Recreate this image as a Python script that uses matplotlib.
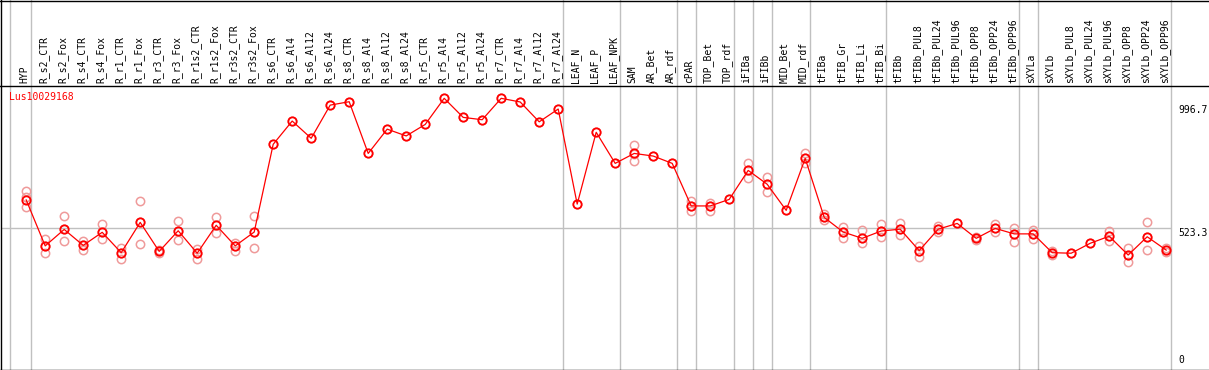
import numpy as np
import matplotlib
matplotlib.use("Agg")
import matplotlib.pyplot as plt
from matplotlib.lines import Line2D
import matplotlib.transforms as mtransforms

# sample names, one column each
samples = ["HYP",
           "R_s2_CTR", "R_s2_Fox", "R_s4_CTR", "R_s4_Fox", "R_r1_CTR", "R_r1_Fox",
           "R_r3_CTR", "R_r3_Fox", "R_r1s2_CTR", "R_r1s2_Fox", "R_r3s2_CTR", "R_r3s2_Fox",
           "R_s6_CTR", "R_s6_Al4", "R_s6_Al12", "R_s6_Al24", "R_s8_CTR", "R_s8_Al4",
           "R_s8_Al12", "R_s8_Al24", "R_r5_CTR", "R_r5_Al4", "R_r5_Al12", "R_r5_Al24",
           "R_r7_CTR", "R_r7_Al4", "R_r7_Al12", "R_r7_Al24",
           "LEAF_N", "LEAF_P", "LEAF_NPK",
           "SAM", "AR_Bet", "AR_rdf",
           "cPAR",
           "TOP_Bet", "TOP_rdf",
           "iFIBa",
           "iFIBb",
           "MID_Bet", "MID_rdf",
           "tFIBa", "tFIB_Gr", "tFIB_Li", "tFIB_Bi",
           "tFIBb", "tFIBb_PUL8", "tFIBb_PUL24", "tFIBb_PUL96", "tFIBb_OPP8",
           "tFIBb_OPP24", "tFIBb_OPP96",
           "sXYLa",
           "sXYLb", "sXYLb_PUL8", "sXYLb_PUL24", "sXYLb_PUL96", "sXYLb_OPP8",
           "sXYLb_OPP24", "sXYLb_OPP96"]

# columns per group (separated by grey lines)
group_sizes = [1, 28, 3, 3, 1, 2, 1, 1, 2, 4, 7, 1, 7]

means = [632, 456, 519, 458, 508, 430, 546, 435, 514, 428, 535, 456, 509,
         845, 934, 868, 995, 1008, 810, 903, 877, 921, 1021, 948, 939,
         1021, 1007, 931, 980,
         616, 891, 772,
         810, 800, 772,
         609,
         609, 634,
         745,
         692,
         592, 791,
         565, 509, 485, 513,
         520, 438, 520, 542, 485, 523, 502,
         502,
         430, 428, 466, 493, 421, 491, 440]

reps = [[666, 644, 604], [482, 456, 428], [570, 519, 475], [475, 458, 440],
        [540, 508, 481], [447, 430, 407], [627, 546, 463], [440, 435, 430],
        [551, 514, 477], [444, 428, 407], [567, 535, 504], [468, 456, 438],
        [570, 509, 447],
        [845], [934], [868], [995], [1008], [810], [903], [877], [921], [1021],
        [948], [939], [1021], [1007], [931], [980],
        [616], [891], [772],
        [842, 808, 781], [800], [772],
        [628, 609, 590],
        [620, 609, 590], [634],
        [772, 745, 715],
        [720, 692, 661],
        [592], [813, 791, 774],
        [578, 565, 555], [527, 509, 485], [516, 485, 466], [539, 513, 491],
        [542, 520, 498], [457, 438, 412], [533, 520, 510], [542], [490, 485, 478],
        [539, 523, 510], [526, 502, 472],
        [517, 502, 482],
        [438, 430, 421], [428], [466], [514, 493, 475], [447, 421, 395],
        [547, 491, 439], [447, 440, 431]]

gene = "Lus10029168"
y_labels = [996.7, 523.3, 0]

W, H = 1209, 370
fig = plt.figure(figsize=(W / 100, H / 100), dpi=100)
plt.rcParams['font.family'] = ['DejaVu Sans Mono']

# plot area: pixels 1..1209 wide, 85..369 from top
ax = fig.add_axes([1 / W, 1 / H, (W - 1) / W, 284 / H])
ax.set_xlim(-1.326, 62.253)
ax.set_ylim(-15.3, 1072.0)
ax.axis("off")

grey = "#c0c0c0"
# group separators, also through the label strip
x_end = 4.5 / 19
bounds = [-0.85] + list(np.cumsum(group_sizes) - 1 + x_end)
for b in bounds:
    ax.axvline(b, ymin=0, ymax=369 / 284, color=grey, lw=1.0, clip_on=False, zorder=1)
ax.hlines(y_labels[1], -1.326, len(samples) - 1 + x_end, color=grey, lw=1.0, zorder=1)

x = np.arange(len(samples))
rx = [i for i, r in enumerate(reps) for _ in r]
ry = [v for r in reps for v in r]
ax.plot(rx, ry, linestyle="none", marker="o", markersize=6,
        markerfacecolor="none", markeredgecolor="#ef9a9a", markeredgewidth=1.1, zorder=2)
ax.plot(x, means, color="red", lw=0.9, zorder=3)
ax.plot(x, means, linestyle="none", marker="o", markersize=6,
        markerfacecolor="none", markeredgecolor="red", markeredgewidth=1.3, zorder=4)

# sample labels above the plot
trans = mtransforms.blended_transform_factory(ax.transData, ax.transAxes)
for i, s in enumerate(samples):
    ax.text(i - 0.09, 1 + 2 / 284, s, transform=trans, rotation=90,
            ha="center", va="bottom", fontsize=7, color="black")

ax.text(8.5 / W, (369 - 97) / 284, gene, transform=ax.transAxes, color="red",
        fontsize=7, ha="left", va="center")

# value labels on the right
xr = (1178.5 - 26.2) / 19
ax.text(xr, y_labels[0], "996.7", ha="left", va="top", fontsize=7)
ax.text(xr, y_labels[1], "523.3", ha="left", va="top", fontsize=7)
ax.text(xr, y_labels[2], "0", ha="left", va="bottom", fontsize=7)

# black frame lines in pixels
def hline(y, x0=0, x1=W):
    fig.add_artist(Line2D([x0 / W, x1 / W], [1 - y / H, 1 - y / H], color="black", lw=1.0))

hline(0.5)
hline(85.5)
hline(369.5)
fig.add_artist(Line2D([1 / W, 1 / W], [0, 1], color="black", lw=1.0))

fig.savefig("out.png", dpi=100)
